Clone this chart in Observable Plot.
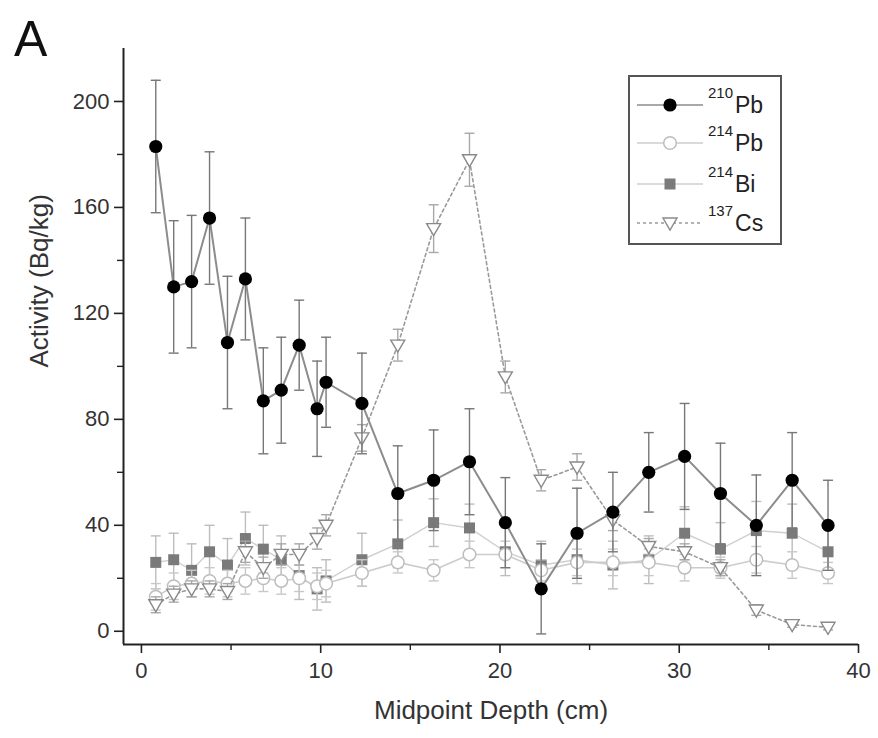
<!DOCTYPE html>
<html>
<head>
<meta charset="utf-8">
<script src="https://cdn.jsdelivr.net/npm/d3@7"></script>
<script src="https://cdn.jsdelivr.net/npm/@observablehq/plot@0.6"></script>
<style>
  body { margin: 0; background: #fff; font-family: "Liberation Sans", Arial, sans-serif; }
  #wrap { position: relative; width: 878px; height: 738px; }
  #panel { position: absolute; left: 14px; top: 14px; font-size: 50px; line-height: 1; color: #111; }
  #legend { position: absolute; left: 628px; top: 75px; width: 154px; height: 170px; border: 2px solid #555; box-sizing: border-box; background: #fff; }
  .row { position: absolute; left: 0; height: 30px; display: flex; align-items: center; }
  .row svg { margin-left: 7px; }
  .lab { position: absolute; left: 78px; white-space: nowrap; font-size: 23px; line-height: 30px; color: #222; }
  .sup { font-size: 15px; position: relative; top: -15px; margin-right: 2px; }
</style>
</head>
<body>
<div id="wrap">
  <div id="chart"></div>
  <div id="panel">A</div>
  <div id="legend"></div>
</div>
<script>
// ---- data ----
const depth = [0.8, 1.8, 2.8, 3.8, 4.8, 5.8, 6.8, 7.8, 8.8, 9.8, 10.3, 12.3, 14.3, 16.3, 18.3, 20.3, 22.3, 24.3, 26.3, 28.3, 30.3, 32.3, 34.3, 36.3, 38.3];

const pb210    = [183, 130, 132, 156, 109, 133, 87, 91, 108, 84, 94, 86, 52, 57, 64, 41, 16, 37, 45, 60, 66, 52, 40, 57, 40];
const pb210Err = [25, 25, 25, 25, 25, 23, 20, 20, 17, 18, 17, 19, 18, 19, 20, 17, 17, 17, 15, 15, 20, 19, 19, 18, 17];

const pb214    = [13, 17, 18, 19, 18, 19, 20, 19, 20, 17, 18, 22, 26, 23, 29, 29, 23, 26, 26, 26, 24, 24, 27, 25, 22];
const pb214Err = [5, 5, 5, 5, 5, 5, 5, 5, 5, 5, 5, 5, 4, 4, 5, 5, 4, 5, 5, 5, 5, 4, 5, 5, 4];

const bi214    = [26, 27, 23, 30, 25, 35, 31, 27, 21, 16, 19, 27, 33, 41, 39, 30, 25, 27, 25, 27, 37, 31, 38, 37, 30];
const bi214Err = [10, 10, 10, 10, 10, 10, 9, 9, 9, 8, 8, 10, 9, 9, 9, 9, 9, 9, 9, 9, 10, 10, 11, 11, 9];

const cs137    = [10, 14, 16, 16, 15, 30, 24, 29, 29, 35, 40, 73, 108, 152, 178, 96, 57, 62, 42, 32, 30, 24, 8, 2.5, 1.5];
const cs137Err = [3, 3, 3, 3, 3, 4, 4, 4, 4, 4, 4, 5, 6, 9, 10, 6, 4, 5, 4, 3, 3, 3, 2, 1, 1];

const xDomain = [-1, 40];
const yDomain = [-5, 220];
const xMajor = [0, 10, 20, 30, 40];
const xMinor = [5, 15, 25, 35];
const yMajor = [0, 40, 80, 120, 160, 200];
const yMinor = [20, 60, 100, 140, 180];
const xLabel = "Midpoint Depth (cm)";
const yLabel = "Activity (Bq/kg)";

// ---- helpers ----
const rows = (vals, errs) => depth.map((d, i) => ({depth: d, v: vals[i], lo: vals[i] - errs[i], hi: vals[i] + errs[i]}));

const cap = { draw(ctx, size) { const w = Math.sqrt(size / Math.PI) * 1.0; ctx.moveTo(-w, 0); ctx.lineTo(w, 0); } };
const triDown = { draw(ctx, size) { const k = Math.sqrt(size / Math.PI); ctx.moveTo(-k, -0.72 * k); ctx.lineTo(k, -0.72 * k); ctx.lineTo(0, 1.0 * k); ctx.closePath(); } };

function seriesMarks(data, st) {
  return [
    Plot.line(data, {x: "depth", y: "v", stroke: st.line, strokeWidth: st.lw, strokeDasharray: st.dash}),
    Plot.ruleX(data, {x: "depth", y1: "lo", y2: "hi", stroke: st.bar, strokeWidth: 1.4}),
    Plot.dot(data, {x: "depth", y: "hi", symbol: cap, r: 5, fill: "none", stroke: st.bar, strokeWidth: 1.4}),
    Plot.dot(data, {x: "depth", y: "lo", symbol: cap, r: 5, fill: "none", stroke: st.bar, strokeWidth: 1.4}),
    Plot.dot(data, {x: "depth", y: "v", symbol: st.symbol, r: st.r, fill: st.fill, stroke: st.stroke, strokeWidth: st.sw})
  ];
}

const styles = {
  bi214: {line: "#cfcfcf", lw: 1.4, bar: "#bdbdbd", symbol: "square", r: 6.2, fill: "#7a7a7a", stroke: "none", sw: 0},
  pb214: {line: "#cccccc", lw: 1.6, bar: "#c8c8c8", symbol: "circle", r: 6.3, fill: "#fff", stroke: "#bdbdbd", sw: 1.5},
  cs137: {line: "#9a9a9a", lw: 1.6, dash: "3,3", bar: "#a8a8a8", symbol: triDown, r: 7, fill: "#fff", stroke: "#8a8a8a", sw: 1.4},
  pb210: {line: "#8c8c8c", lw: 2, bar: "#777", symbol: "circle", r: 6.6, fill: "#000", stroke: "none", sw: 0}
};

const chart = Plot.plot({
  width: 878,
  height: 738,
  marginLeft: 123,
  marginRight: 20,
  marginTop: 48,
  marginBottom: 94,
  x: {domain: xDomain},
  y: {domain: yDomain},
  style: {fontFamily: "'Liberation Sans', Arial, sans-serif", color: "#333", background: "#fff", overflow: "visible"},
  marks: [
    ...seriesMarks(rows(bi214, bi214Err), styles.bi214),
    ...seriesMarks(rows(pb214, pb214Err), styles.pb214),
    ...seriesMarks(rows(cs137, cs137Err), styles.cs137),
    ...seriesMarks(rows(pb210, pb210Err), styles.pb210),
    Plot.ruleX([xDomain[0]], {stroke: "#222", strokeWidth: 2}),
    Plot.ruleY([yDomain[0]], {stroke: "#222", strokeWidth: 2}),
    Plot.axisX({ticks: xMajor, tickSize: 9, tickPadding: 9, fontSize: 22, label: null, stroke: "#222", strokeWidth: 1.6, fill: "#333"}),
    Plot.axisX({ticks: xMinor, tickSize: 6, text: null, label: null, stroke: "#222", strokeWidth: 1.4}),
    Plot.axisY({ticks: yMajor, tickSize: 9, tickPadding: 5, fontSize: 22, label: null, stroke: "#222", strokeWidth: 1.6, fill: "#333"}),
    Plot.axisY({ticks: yMinor, tickSize: 6, text: null, label: null, stroke: "#222", strokeWidth: 1.4}),
    Plot.text([xLabel], {frameAnchor: "bottom", dy: 74, fontSize: 26, fill: "#333"}),
    Plot.text([yLabel], {frameAnchor: "left", rotate: -90, dx: -84, dy: 21, fontSize: 26, fill: "#333"})
  ]
});
document.getElementById("chart").appendChild(chart);

// ---- legend ----
const legendItems = [
  {sup: "210", base: "Pb", st: styles.pb210, shape: "circle"},
  {sup: "214", base: "Pb", st: styles.pb214, shape: "circle"},
  {sup: "214", base: "Bi", st: styles.bi214, shape: "square"},
  {sup: "137", base: "Cs", st: styles.cs137, shape: "tri"}
];
const rowCenters = [28, 66, 107, 146];
const legend = document.getElementById("legend");
legendItems.forEach((it, i) => {
  const row = document.createElement("div");
  row.className = "row";
  row.style.top = (rowCenters[i] - 15) + "px";
  const st = it.st;
  let marker;
  if (it.shape === "circle") marker = `<circle cx="33" cy="12" r="${st.r}" fill="${st.fill}" stroke="${st.stroke}" stroke-width="${st.sw}"/>`;
  else if (it.shape === "square") marker = `<rect x="27.5" y="6.5" width="11" height="11" fill="${st.fill}"/>`;
  else marker = `<path d="M26,7 L40,7 L33,19 Z" fill="#fff" stroke="${st.stroke}" stroke-width="1.4"/>`;
  row.innerHTML = `<svg width="66" height="24"><line x1="0" x2="66" y1="12" y2="12" stroke="${st.line}" stroke-width="1.6" ${st.dash ? `stroke-dasharray="${st.dash}"` : ""}/>${marker}</svg>`;
  const lab = document.createElement("div");
  lab.className = "lab";
  lab.style.top = (rowCenters[i] - 15) + "px";
  lab.innerHTML = `<span class="sup">${it.sup}</span>${it.base}`;
  legend.appendChild(row);
  legend.appendChild(lab);
});
</script>
</body>
</html>
